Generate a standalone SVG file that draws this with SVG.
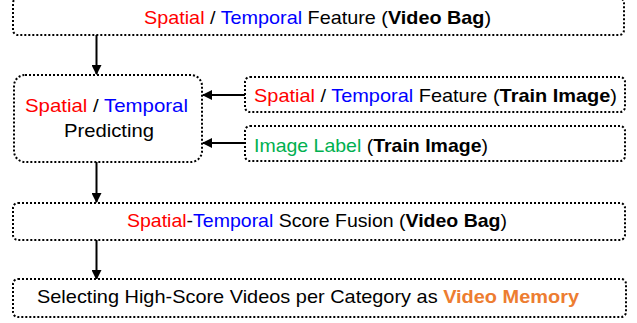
<svg xmlns="http://www.w3.org/2000/svg" width="637" height="323" viewBox="0 0 637 323">
<style>
.box{fill:#fff;stroke:#000;stroke-width:2;stroke-dasharray:2 2}
.t{font-family:"Liberation Sans",Arial,sans-serif;font-size:19px;fill:#000}
.r{fill:#ff0000}.b{fill:#0000ff}.g{fill:#00b050}.o{fill:#ed7d31;font-weight:bold}.k{font-weight:bold}
.c{stroke:#000;stroke-width:2;fill:none}
</style>
<defs>
<marker id="ah" markerWidth="10" markerHeight="10" viewBox="0 0 10 10" refX="9" refY="5" orient="auto" markerUnits="userSpaceOnUse">
<path d="M0,0 L10,5 L0,10 z" fill="#000"/>
</marker>
</defs>
<g id="connectors">
<line class="c" x1="96.5" y1="35" x2="96.5" y2="74" marker-end="url(#ah)"/>
<line class="c" x1="245" y1="95" x2="203" y2="95" marker-end="url(#ah)"/>
<line class="c" x1="245" y1="143" x2="203" y2="143" marker-end="url(#ah)"/>
<line class="c" x1="96.5" y1="162" x2="96.5" y2="202" marker-end="url(#ah)"/>
<line class="c" x1="96.5" y1="240" x2="96.5" y2="279" marker-end="url(#ah)"/>
</g>
<g id="n1">
<rect class="box" x="13" y="-2" width="611" height="37" rx="5"/>
<text class="t" x="144" y="24" textLength="347" lengthAdjust="spacingAndGlyphs"><tspan class="r">Spatial</tspan> / <tspan class="b">Temporal</tspan> Feature (<tspan class="k">Video Bag</tspan>)</text>
</g>
<g id="n2">
<rect class="box" x="14" y="75" width="188" height="87" rx="11"/>
<text class="t" x="25" y="112" textLength="163" lengthAdjust="spacingAndGlyphs"><tspan class="r">Spatial</tspan> / <tspan class="b">Temporal</tspan></text>
<text class="t" x="64" y="137" textLength="90" lengthAdjust="spacingAndGlyphs">Predicting</text>
</g>
<g id="n3">
<rect class="box" x="245" y="77" width="380" height="35" rx="5"/>
<text class="t" x="254" y="102" textLength="363" lengthAdjust="spacingAndGlyphs"><tspan class="r">Spatial</tspan> / <tspan class="b">Temporal</tspan> Feature (<tspan class="k">Train Image</tspan>)</text>
</g>
<g id="n4">
<rect class="box" x="245" y="126" width="380" height="35" rx="5"/>
<text class="t" x="254" y="152" textLength="234" lengthAdjust="spacingAndGlyphs"><tspan class="g">Image Label</tspan> (<tspan class="k">Train Image</tspan>)</text>
</g>
<g id="n5">
<rect class="box" x="13" y="203" width="612" height="37" rx="5"/>
<text class="t" x="127" y="227" textLength="380" lengthAdjust="spacingAndGlyphs"><tspan class="r">Spatial</tspan>-<tspan class="b">Temporal</tspan> Score Fusion (<tspan class="k">Video Bag</tspan>)</text>
</g>
<g id="n6">
<rect class="box" x="13" y="279" width="613" height="38" rx="5"/>
<text class="t" x="37" y="303" textLength="542" lengthAdjust="spacingAndGlyphs">Selecting High-Score Videos per Category as <tspan class="o">Video Memory</tspan></text>
</g>
</svg>
